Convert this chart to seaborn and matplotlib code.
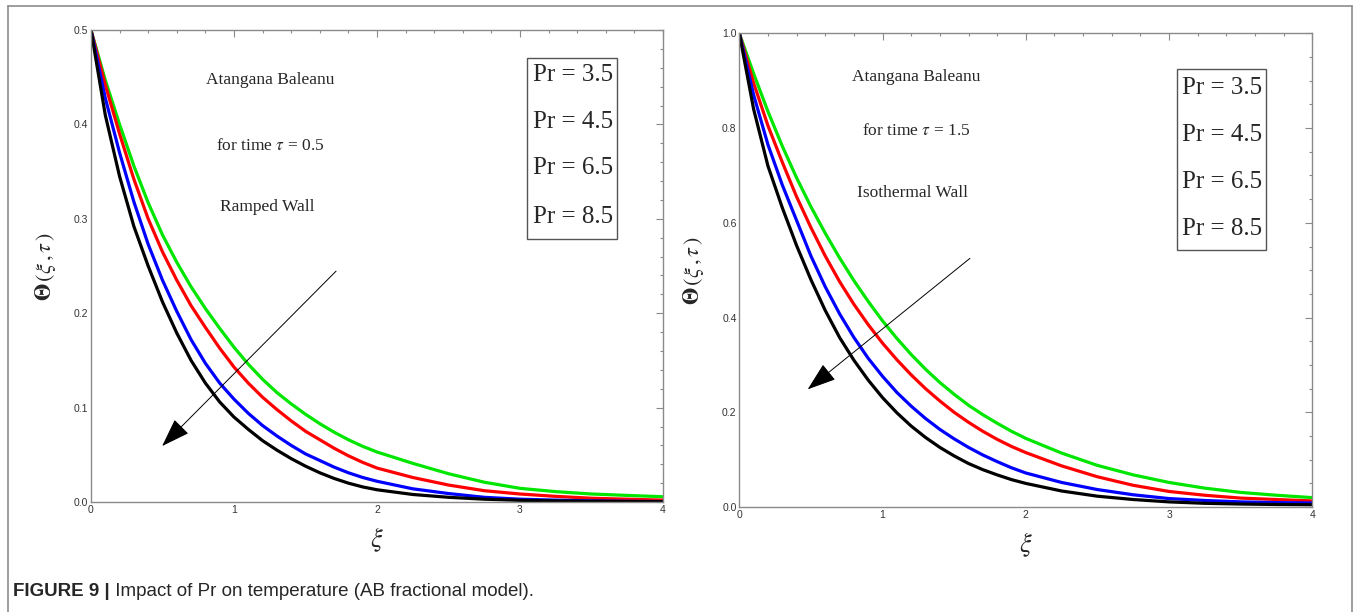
import numpy as np
import pandas as pd
import seaborn as sns
import matplotlib.pyplot as plt
from matplotlib import font_manager
from matplotlib.lines import Line2D
from matplotlib.patches import Rectangle
from matplotlib.ticker import MultipleLocator

# values
xi = [0.0, 0.1, 0.2, 0.3, 0.4, 0.5, 0.6, 0.7, 0.8, 0.9, 1.0,
      1.1, 1.2, 1.3, 1.4, 1.5, 1.6, 1.7, 1.8, 1.9, 2.0,
      2.25, 2.5, 2.75, 3.0, 3.25, 3.5, 3.75, 4.0]
pr_labels = ['3.5', '4.5', '6.5', '8.5']
pr_colors = ['#00e600', '#ff0000', '#0000ff', '#000000']

# left panel: ramped wall, tau = 0.5
ramped_pr35 = [0.500, 0.447, 0.400, 0.356, 0.317, 0.283, 0.254, 0.228, 0.205, 0.184, 0.164,
               0.146, 0.130, 0.116, 0.104, 0.093, 0.083, 0.074, 0.066, 0.059, 0.053,
               0.041, 0.030, 0.021, 0.0145, 0.011, 0.0085, 0.007, 0.0056]
ramped_pr45 = [0.500, 0.442, 0.390, 0.342, 0.300, 0.265, 0.235, 0.208, 0.185, 0.163, 0.143,
               0.126, 0.111, 0.098, 0.086, 0.075, 0.066, 0.057, 0.049, 0.042, 0.036,
               0.026, 0.018, 0.012, 0.0085, 0.006, 0.004, 0.003, 0.002]
ramped_pr65 = [0.500, 0.428, 0.370, 0.318, 0.273, 0.235, 0.202, 0.172, 0.147, 0.126, 0.109,
               0.094, 0.081, 0.070, 0.060, 0.051, 0.044, 0.037, 0.031, 0.026, 0.022,
               0.014, 0.009, 0.005, 0.003, 0.002, 0.0012, 0.0008, 0.0005]
ramped_pr85 = [0.500, 0.410, 0.345, 0.292, 0.250, 0.212, 0.179, 0.150, 0.126, 0.106, 0.090,
               0.077, 0.065, 0.055, 0.046, 0.038, 0.031, 0.025, 0.020, 0.016, 0.013,
               0.008, 0.005, 0.003, 0.0018, 0.0012, 0.0008, 0.0005, 0.0003]

# right panel: isothermal wall, tau = 1.5
iso_pr35 = [1.000, 0.915, 0.835, 0.762, 0.695, 0.634, 0.578, 0.526, 0.478, 0.434, 0.393,
            0.356, 0.322, 0.291, 0.263, 0.238, 0.215, 0.195, 0.177, 0.160, 0.145,
            0.114, 0.088, 0.068, 0.052, 0.040, 0.031, 0.025, 0.020]
iso_pr45 = [1.000, 0.895, 0.805, 0.728, 0.655, 0.590, 0.530, 0.476, 0.428, 0.385, 0.346,
            0.311, 0.279, 0.250, 0.224, 0.200, 0.179, 0.160, 0.143, 0.128, 0.115,
            0.087, 0.064, 0.046, 0.033, 0.025, 0.019, 0.016, 0.013]
iso_pr65 = [1.000, 0.870, 0.765, 0.680, 0.605, 0.530, 0.465, 0.408, 0.358, 0.314, 0.276,
            0.242, 0.213, 0.187, 0.164, 0.144, 0.126, 0.110, 0.096, 0.083, 0.072,
            0.052, 0.037, 0.026, 0.018, 0.014, 0.011, 0.0095, 0.0087]
iso_pr85 = [1.000, 0.840, 0.720, 0.632, 0.552, 0.480, 0.415, 0.358, 0.310, 0.268, 0.231,
            0.199, 0.171, 0.147, 0.126, 0.108, 0.092, 0.079, 0.068, 0.058, 0.050,
            0.034, 0.023, 0.016, 0.011, 0.008, 0.0065, 0.0055, 0.005]


def long_frame(series):
    rows = []
    for lab, vals in zip(pr_labels, series):
        for x, y in zip(xi, vals):
            rows.append({'xi': x, 'theta': y, 'Pr': lab})
    return pd.DataFrame(rows)


df_ramped = long_frame([ramped_pr35, ramped_pr45, ramped_pr65, ramped_pr85])
df_iso = long_frame([iso_pr35, iso_pr45, iso_pr65, iso_pr85])

sns.set_theme(style='white')
names = {f.name for f in font_manager.fontManager.ttflist}
narrow = 'Liberation Sans Narrow' if 'Liberation Sans Narrow' in names else 'Liberation Sans'
plt.rcParams['font.family'] = [narrow, 'DejaVu Sans']
plt.rcParams['mathtext.fontset'] = 'stix'

fig = plt.figure(figsize=(13.56, 6.12), dpi=100)
ax1 = fig.add_axes([0.0671, 0.1797, 0.4218, 0.7712])
ax2 = fig.add_axes([0.5452, 0.1714, 0.4226, 0.7742])

palette = dict(zip(pr_labels, pr_colors))
serif = 'Liberation Serif'

panels = [
    (ax1, df_ramped, 0.5, 0.1, 0.02, '0.5', 'Ramped Wall',
     [0.894, 0.754, 0.625], 0.313, [0.762, 0.557, 0.158, 0.384], 0.773,
     [0.905, 0.806, 0.707, 0.604], ((1.714, 0.2446), (0.4976, 0.0593))),
    (ax2, df_iso, 1.0, 0.2, 0.05, '1.5', 'Isothermal Wall',
     [0.908, 0.794, 0.663], 0.308, [0.763, 0.543, 0.157, 0.381], 0.772,
     [0.884, 0.785, 0.687, 0.588], ((1.610, 0.525), (0.4775, 0.2486))),
]

for (ax, df, ymax, ymaj, ymin, tau, wall, ty, tx, box, lx, ly, arrow) in panels:
    sns.lineplot(data=df, x='xi', y='theta', hue='Pr', hue_order=pr_labels,
                 palette=palette, linewidth=2.3, legend=False, ax=ax,
                 estimator=None, sort=False)
    ax.set_xlim(0, 4)
    ax.set_ylim(0, ymax)
    ax.xaxis.set_major_locator(MultipleLocator(1))
    ax.xaxis.set_minor_locator(MultipleLocator(0.2))
    ax.yaxis.set_major_locator(MultipleLocator(ymaj))
    ax.yaxis.set_minor_locator(MultipleLocator(ymin))
    ax.xaxis.set_major_formatter(lambda v, p: '%d' % v)
    ax.yaxis.set_major_formatter(lambda v, p: '%.1f' % v)
    ax.tick_params(which='both', direction='in', top=True, right=True,
                   color='#8a8a8a', labelcolor='#333333', labelsize=7.5, width=0.8)
    ax.tick_params(which='major', length=5, pad=2)
    ax.tick_params(which='minor', length=2.5)
    for s in ax.spines.values():
        s.set_color('#8a8a8a')
        s.set_linewidth(1.0)

    ax.set_xlabel(r'$\xi$', fontsize=19)
    ax.xaxis.set_label_coords(0.5, -0.05)
    ax.set_ylabel(r'$\mathbf{\Theta}\,(\xi\,,\tau\,)$', fontsize=16)
    ax.yaxis.set_label_coords(-0.058, 0.5)

    ax.text(tx, ty[0], 'Atangana Baleanu', transform=ax.transAxes,
            family=serif, fontsize=12.5, ha='center', va='center')
    ax.text(tx, ty[1], r'for time $\tau$ = ' + tau, transform=ax.transAxes,
            family=serif, fontsize=12.5, ha='center', va='center')
    ax.text(tx - 0.005, ty[2], wall, transform=ax.transAxes,
            family=serif, fontsize=12.5, ha='center', va='center')

    ax.add_patch(Rectangle((box[0], box[1]), box[2], box[3], transform=ax.transAxes,
                           fill=False, edgecolor='#555555', linewidth=1.0))
    for lab, yy in zip(pr_labels, ly):
        ax.text(lx, yy, 'Pr = ' + lab, transform=ax.transAxes, family=serif,
                fontsize=18, ha='left', va='center')

    ax.annotate('', xy=arrow[1], xytext=arrow[0],
                arrowprops=dict(arrowstyle='-|>,head_length=1.3,head_width=0.45',
                                mutation_scale=14, color='black', lw=0.7,
                                shrinkA=0, shrinkB=0))

# outer frame around the figure and caption
for xs, ys in [((0.0059, 0.0059), (0, 0.990)), ((0.0059, 0.9971), (0.990, 0.990)),
               ((0.9971, 0.9971), (0, 0.990))]:
    fig.add_artist(Line2D(xs, ys, color='#8c8c8c', lw=1.2, transform=fig.transFigure))

cap = fig.text(0.0096, 0.034, 'FIGURE 9 |', family='Liberation Sans', fontsize=13.5,
               weight='bold', ha='left', va='center')
fig.add_artist(plt.Annotation(' Impact of Pr on temperature (AB fractional model).',
                              xy=(1, 0.5), xycoords=cap, va='center', ha='left',
                              family='Liberation Sans', fontsize=13.5))

fig.savefig('out.png', dpi=100)
